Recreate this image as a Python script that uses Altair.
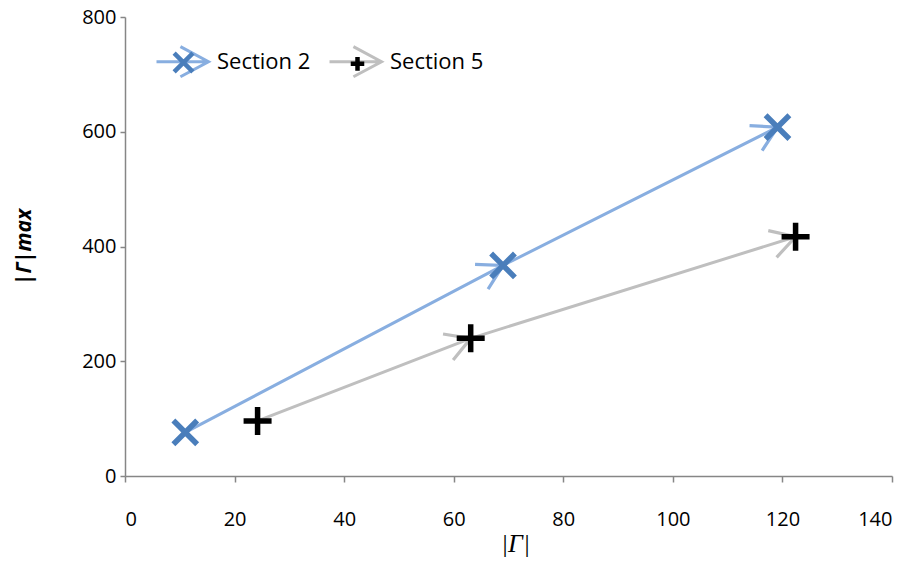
import math
import altair as alt
import pandas as pd

# ---- data ----
series_names = ["Section 2", "Section 5"]
s2_x = [11.0, 69.0, 119.1]
s2_y = [76, 367, 608]
s5_x = [24.2, 63.1, 122.4]
s5_y = [96, 240, 417]

x_ticks = [0, 20, 40, 60, 80, 100, 120, 140]
y_ticks = [0, 200, 400, 600, 800]

line_colors = ["#88AEE0", "#BFBFBF"]
marker_colors = ["#4A7EBB", "#000000"]

# ---- layout ----
W, H = 767, 459
X_MAX, Y_MAX = 140, 800
kx, ky = W / X_MAX, H / Y_MAX

CHEVRON = "M -0.866 -0.5 L 0 0 L -0.866 0.5"
X_PATH = "M -0.85 -0.85 L 0.85 0.85 M -0.85 0.85 L 0.85 -0.85"
PLUS_PATH = "M -1 0 L 1 0 M 0 -1 L 0 1"
LEG_LINE = "M -1 0 L 1 0 M -0.08 -0.58 L 1 0 L -0.08 0.58"
LEG_X = "M -0.36 -0.36 L 0.36 0.36 M -0.36 0.36 L 0.36 -0.36"
LEG_PLUS = "M -0.26 0 L 0.26 0 M 0 -0.26 L 0 0.26"

rows, arrows = [], []
for name, xs, ys in [(series_names[0], s2_x, s2_y), (series_names[1], s5_x, s5_y)]:
    for i, (x, y) in enumerate(zip(xs, ys)):
        rows.append({"series": name, "leg": name, "x": x, "y": y, "order": i})
        if i > 0:
            dx = (x - xs[i - 1]) * kx
            dy = -(y - ys[i - 1]) * ky
            ang = math.degrees(math.atan2(dy, dx)) % 360
            arrows.append({"series": name, "x": x, "y": y, "angle": ang})

df = pd.DataFrame(rows)
adf = pd.DataFrame(arrows)

x_enc = alt.X(
    "x:Q",
    scale=alt.Scale(domain=[0, X_MAX], nice=False, zero=False),
    axis=alt.Axis(
        values=x_ticks, grid=False, tickSize=6, tickColor="#868686", tickWidth=1.5,
        domainColor="#868686", domainWidth=1.5,
        labelFont="Open Sans", labelFontSize=20, labelColor="#000000", labelPadding=27,
        title="|Γ|", titleFont="Liberation Serif", titleFontStyle="italic",
        titleFontWeight="normal", titleFontSize=26, titleColor="#000000", titlePadding=1,
        titleX=390,
    ),
)
y_enc = alt.Y(
    "y:Q",
    scale=alt.Scale(domain=[0, Y_MAX], nice=False, zero=False),
    axis=alt.Axis(
        values=y_ticks, grid=False, tickSize=5, tickColor="#868686", tickWidth=1.5,
        domainColor="#868686", domainWidth=1.5,
        labelFont="Open Sans", labelFontSize=20, labelColor="#000000", labelPadding=4,
        title="|Γ|max", titleFont="Open Sans", titleFontStyle="italic",
        titleFontWeight="bold", titleFontSize=21, titleColor="#000000", titlePadding=47,
    ),
)

LEG_COMMON = dict(
    title=None, orient="none", legendX=30, legendY=17, direction="horizontal",
    symbolSize=2704, labelFont="Open Sans", labelFontSize=22, labelOffset=7, padding=0,
)

lines = alt.Chart(df).mark_line(strokeWidth=3).encode(
    x=x_enc, y=y_enc, order="order:Q",
    color=alt.Color(
        "series:N",
        scale=alt.Scale(domain=series_names, range=line_colors),
        legend=alt.Legend(
            symbolType=LEG_LINE, symbolStrokeWidth=3, symbolFillColor="transparent",
            labelColor="#000000", columnPadding=12, zindex=1, **LEG_COMMON,
        ),
    ),
)

arrow_pts = alt.Chart(adf).mark_point(
    shape=CHEVRON, filled=False, size=3136, strokeWidth=3.2, opacity=1
).encode(
    x="x:Q", y="y:Q",
    angle=alt.Angle("angle:Q", scale=None),
    stroke=alt.Stroke("series:N", scale=alt.Scale(domain=series_names, range=line_colors), legend=None),
)

marker_legend = alt.Legend(
    symbolStrokeWidth=4.5, labelExpr="''", columnPadding=110, zindex=2, **LEG_COMMON,
)

legend_pts = alt.Chart(df).mark_point(filled=False, size=0, opacity=1).encode(
    x="x:Q", y="y:Q",
    shape=alt.Shape("leg:N", scale=alt.Scale(domain=series_names, range=[LEG_X, LEG_PLUS]), legend=marker_legend),
    stroke=alt.Stroke("leg:N", scale=alt.Scale(domain=series_names, range=marker_colors), legend=marker_legend),
)

markers = alt.Chart(df).mark_point(filled=False, size=784, strokeWidth=5.5, opacity=1).encode(
    x="x:Q", y="y:Q",
    shape=alt.Shape("series:N", scale=alt.Scale(domain=series_names, range=[X_PATH, PLUS_PATH]), legend=None),
    stroke=alt.Stroke("series:N", scale=alt.Scale(domain=series_names, range=marker_colors), legend=None),
)

chart = (
    alt.layer(lines, arrow_pts, legend_pts, markers)
    .resolve_scale(color="independent", stroke="independent", shape="independent")
    .properties(
        width=W, height=H,
        autosize=alt.AutoSizeParams(type="none"),
        padding={"left": 117, "top": 9, "right": 23, "bottom": 81},
        background="white",
    )
    .configure_view(stroke=None)
)

chart.save("out.html", embed_options={"renderer": "svg", "actions": False})
